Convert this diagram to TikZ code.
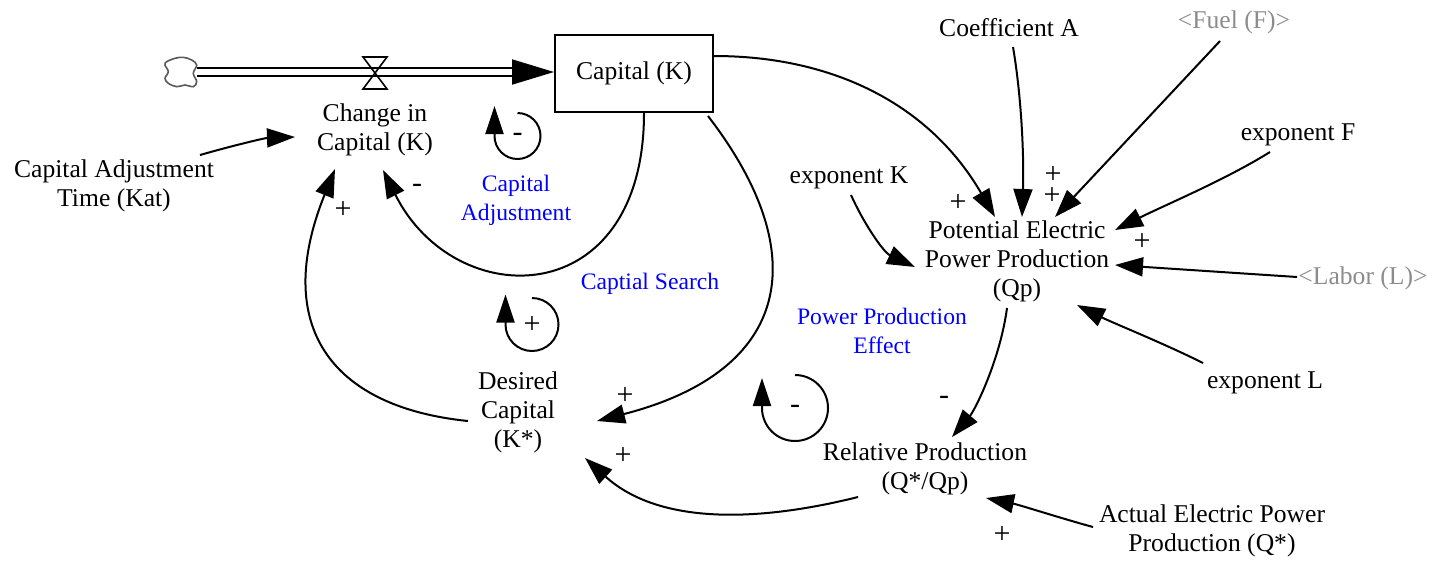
\documentclass[tikz,border=0pt]{standalone}
\usepackage{fontspec}
\setmainfont{Liberation Serif}
\usetikzlibrary{arrows.meta,calc}

\newcommand{\varfont}{\fontsize{12.8pt}{14.5pt}\selectfont}
\newcommand{\loopfont}{\fontsize{11.8pt}{14.5pt}\selectfont}
\newcommand{\polfont}{\fontsize{15pt}{16pt}\selectfont}

\tikzset{
  var/.style={align=center, inner sep=0pt, font=\varfont},
  ghost/.style={var, text=black!45},
  loopname/.style={align=center, inner sep=0pt, font=\loopfont, text=blue},
  pol/.style={inner sep=0pt, font=\polfont},
  stock/.style={draw, line width=1pt, minimum width=79pt, minimum height=38.5pt,
                inner sep=0pt, font=\varfont},
  link/.style={line width=1pt, -{Triangle[length=14pt,width=9.5pt]}},
  pipe/.style={double, double distance=3pt, line width=1pt,
               -{Triangle[length=21pt,width=12.5pt]}},
  pics/loopmark/.style n args={2}{code={
    \draw[line width=1pt, -{Triangle[length=14pt,width=9pt]}]
      (0,-#1) arc[start angle=-90, end angle=180, radius=#1] -- ++(0,-30);
    \node[pol] at (0,1) {#2};
  }}
}

\begin{document}
\begin{tikzpicture}[x=0.5pt, y=-0.5pt]
\useasboundingbox (0,0) rectangle (1433,563);

% stock, source cloud and flow pipe with valve
\node[stock] (K) at (634,73.5) {Capital (K)};
\node[inner sep=0pt, minimum width=16pt, minimum height=15pt] (src) at (181,72) {};
\draw[black!65, line width=0.8pt, fill=white] plot[smooth cycle, tension=0.6] coordinates {
  (166.7,61.7) (175,58.3) (183.3,57.3) (191.7,60) (196.7,65) (193.3,73.3)
  (196.7,81.7) (193.3,86.7) (185,85) (176.7,86.7) (168.3,83.3) (165,78.3)
  (168.3,71.7) (165,65)};
\draw[pipe] (src.east) -- (src.east -| K.west);
\draw[line width=0.8pt] (363,57) -- (387,57) -- (363,89) -- (387,89) -- cycle;

% auxiliaries
\node[var] (chg) at (375,130) {Change in\\Capital (K)};
\node[var] (kat) at (114,186) {Capital Adjustment\\Time (Kat)};
\node[var] (des) at (518,412) {Desired\\Capital\\(K*)};
\node[var] (rel) at (925,469) {Relative Production\\(Q*/Qp)};
\node[var] (act) at (1212,531) {Actual Electric Power\\Production (Q*)};
\node[var] (pot) at (1017,261) {Potential Electric\\Power Production\\(Qp)};
\node[var] (coefA) at (1009,28) {Coefficient A};
\node[ghost] (fuel) at (1234,22) {<Fuel (F)>};
\node[var] (expF) at (1298,135) {exponent F};
\node[var] (expK) at (849,178) {exponent K};
\node[ghost] (labor) at (1363,278) {<Labor (L)>};
\node[var] (expL) at (1265,383) {exponent L};

% loop names
\node[loopname] (loopA) at (516,200) {Capital\\Adjustment};
\node[loopname] (loopS) at (650,284) {Captial Search};
\node[loopname] (loopP) at (882,331) {Power Production\\Effect};

% loop markers
\pic at (517.5,136) {loopmark={23}{-}};
\pic at (532,324.5) {loopmark={26.5}{+}};
\pic at (795,408) {loopmark={33}{-}};

% causal links
\draw[link] ($(kat)+(86,-31)$) .. controls (235,145) and (265,138) .. ($(chg)+(-80,7)$);
\draw[link] ($(K)+(10,39.5)$) .. controls (644,313) and (455,314) .. ($(chg)+(8,40)$);
\draw[link] ($(des)+(-50,9)$) .. controls (330,407) and (272,325) .. ($(chg)+(-40,39)$);
\draw[link] ($(K)+(74,42.5)$) .. controls (815,255) and (791,371) .. ($(des)+(79,9)$);
\draw[link] ($(rel)+(-67,28)$) .. controls (758,522) and (659,525) .. ($(des)+(67,46)$);
\draw[link] ($(pot)+(-10,47)$) .. controls (1000,360) and (975,410) .. ($(rel)+(27,-32)$);
\draw[link] ($(act)+(-119,-4)$) .. controls (1060,518) and (1020,505) .. ($(rel)+(61,29)$);
\draw[link] ($(K)+(80,-17.5)$) .. controls (834,56) and (930,105) .. ($(pot)+(-22,-44)$);
\draw[link] ($(coefA)+(4,19)$) .. controls (1022,100) and (1024,160) .. ($(pot)+(5,-44)$);
\draw[link] ($(fuel)+(-14,19)$) -- ($(pot)+(38,-44)$);
\draw[link] ($(expF)+(-28,17)$) .. controls (1225,180) and (1165,205) .. ($(pot)+(98,-31)$);
\draw[link] ($(expK)+(2,17)$) .. controls (863,222) and (883,252) .. ($(pot)+(-102,6)$);
\draw[link] ($(labor)+(-66,-1)$) -- ($(pot)+(98,4)$);
\draw[link] ($(expL)+(-62,-20)$) .. controls (1163,343) and (1113,323) .. ($(pot)+(60,44)$);

% link polarities
\node[pol] (s1) at (417,188) {-};
\node[pol] (s2) at (343,210) {+};
\node[pol] (s3) at (625,396) {+};
\node[pol] (s4) at (623,456) {+};
\node[pol] (s5) at (944,400) {-};
\node[pol] (s6) at (1002,535) {+};
\node[pol] (s7) at (958,203) {+};
\node[pol] (s8) at (1053,175) {+};
\node[pol] (s9) at (1052,196) {+};
\node[pol] (s10) at (1142,242) {+};
\end{tikzpicture}
\end{document}
